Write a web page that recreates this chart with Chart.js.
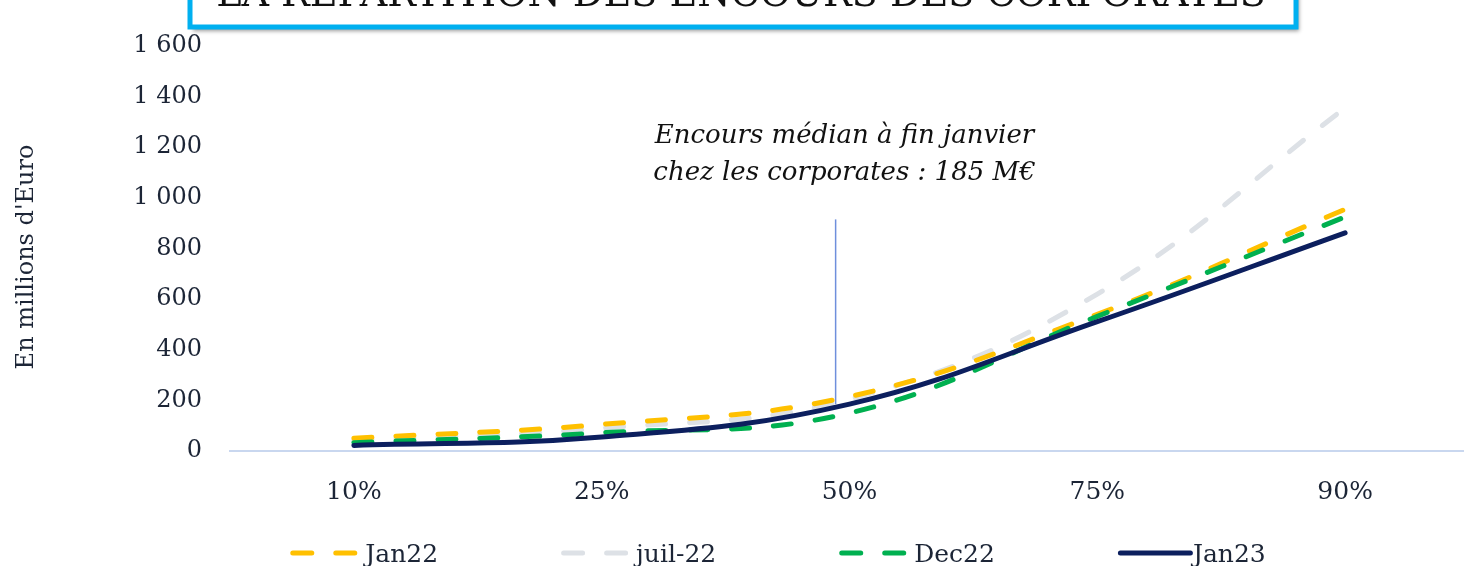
<!DOCTYPE html>
<html><head><meta charset="utf-8">
<script src="https://cdn.jsdelivr.net/npm/chart.js@4"></script>
<style>
html,body{margin:0;padding:0;background:#fff;overflow:hidden;}
#wrap{position:relative;width:1474px;height:566px;}
</style></head><body>
<div id="wrap"><canvas id="c"></canvas></div>
<script>
// ---- data ----
const categories = ['10%', '25%', '50%', '75%', '90%'];
const jan22  = [50, 105, 215, 540, 955];
const juil22 = [42, 90, 205, 620, 1355];
const dec22  = [33, 72, 150, 532, 925];
const jan23  = [22, 55, 185, 511, 862];
const seriesNames = ['Jan22', 'juil-22', 'Dec22', 'Jan23'];
const yTickLabels = ['0', '200', '400', '600', '800', '1 000', '1 200', '1 400', '1 600'];
const yTitle = "En millions d'Euro";
const chartTitle = 'LA RÉPARTITION DES ENCOURS DES CORPORATES';
const noteLines = ['Encours médian à fin janvier', 'chez les corporates : 185 M€'];
const medianValue = 185;
const medianLineTop = 915;

// ---- styles ----
const colors = ['#ffc000', '#dde1e6', '#00b050', '#0c1f5e'];
const dashes = [[18, 24], [18, 24], [18, 24], []];
const drawOrder = [2, 3, 1, 0];
const textColor = '#1c2536';
const SERIF = '"DejaVu Serif", "Liberation Serif", serif';

const seriesData = [jan22, juil22, dec22, jan23];
const datasets = seriesData.map((d, i) => ({
  label: seriesNames[i],
  data: d,
  borderColor: colors[i],
  backgroundColor: colors[i],
  borderWidth: 5,
  borderDash: dashes[i],
  borderCapStyle: 'round',
  borderJoinStyle: 'round',
  pointRadius: 0,
  pointHoverRadius: 0,
  tension: 0.4,
  fill: false,
  order: drawOrder[i]
}));

const decor = {
  id: 'decor',
  beforeDatasetsDraw(chart) {
    const {ctx, scales: {x, y}} = chart;
    const px = x.getPixelForValue(1.944);
    ctx.save();
    ctx.strokeStyle = '#6f8fdc';
    ctx.lineWidth = 1.5;
    ctx.beginPath();
    ctx.moveTo(px, y.getPixelForValue(medianLineTop));
    ctx.lineTo(px, y.getPixelForValue(medianValue));
    ctx.stroke();
    ctx.restore();
  },
  afterDraw(chart) {
    const {ctx, scales: {x, y}} = chart;
    ctx.save();
    // title box
    ctx.save();
    ctx.shadowColor = 'rgba(0,0,0,0.4)';
    ctx.shadowOffsetX = 3;
    ctx.shadowOffsetY = 4;
    ctx.shadowBlur = 4;
    ctx.fillStyle = '#ffffff';
    ctx.fillRect(190, -40, 1106, 67);
    ctx.restore();
    ctx.strokeStyle = '#00b0f0';
    ctx.lineWidth = 5;
    ctx.strokeRect(190, -40, 1106, 67);
    ctx.fillStyle = '#111111';
    let fs = 40;
    ctx.font = fs + 'px ' + SERIF;
    const tw = ctx.measureText(chartTitle).width;
    fs = fs * 1050 / tw;
    ctx.font = fs + 'px ' + SERIF;
    ctx.textAlign = 'center';
    ctx.textBaseline = 'alphabetic';
    ctx.fillText(chartTitle, 741, 6);

    // y title
    ctx.save();
    ctx.translate(27, 257);
    ctx.rotate(-Math.PI / 2);
    ctx.font = '24px ' + SERIF;
    ctx.fillStyle = textColor;
    ctx.textAlign = 'center';
    ctx.textBaseline = 'middle';
    ctx.fillText(yTitle, 0, 0);
    ctx.restore();

    // note
    ctx.font = 'italic 26px ' + SERIF;
    ctx.fillStyle = '#111111';
    ctx.textAlign = 'center';
    ctx.textBaseline = 'middle';
    const nx = x.getPixelForValue(2) - 5;
    ctx.fillText(noteLines[0], nx, 136);
    ctx.fillText(noteLines[1], nx, 173);

    // legend
    ctx.font = '25px ' + SERIF;
    const symLen = 70, textOff = 75, gap = 123;
    const widths = seriesNames.map(n => textOff + ctx.measureText(n).width);
    const total = widths.reduce((a, b) => a + b, 0) + gap * (seriesNames.length - 1);
    let sx = 778 - total / 2;
    const ly = 553;
    seriesNames.forEach((n, i) => {
      ctx.save();
      ctx.strokeStyle = colors[i];
      ctx.lineWidth = 5;
      ctx.lineCap = 'round';
      ctx.setLineDash(dashes[i].length ? [19, 24] : []);
      ctx.beginPath();
      ctx.moveTo(sx + 2.5, ly);
      ctx.lineTo(sx + 2.5 + symLen, ly);
      ctx.stroke();
      ctx.restore();
      ctx.fillStyle = textColor;
      ctx.textAlign = 'left';
      ctx.textBaseline = 'middle';
      ctx.fillText(n, sx + textOff, ly + 2);
      sx += widths[i] + gap;
    });
    ctx.restore();
  }
};

new Chart(document.getElementById('c'), {
  type: 'line',
  data: { labels: categories, datasets },
  options: {
    responsive: true,
    maintainAspectRatio: false,
    animation: false,
    layout: { padding: { top: 46, left: 0, right: 5, bottom: 0 } },
    plugins: { legend: { display: false }, tooltip: { enabled: false }, title: { display: false } },
    scales: {
      x: {
        offset: true,
        grid: { display: false, drawTicks: false, offset: true },
        border: { display: true, color: '#c9d7ef', width: 2 },
        ticks: { color: textColor, font: { family: SERIF, size: 25 }, padding: 26 },
        afterFit: s => { s.height = 115; }
      },
      y: {
        min: 0, max: 1600,
        grid: { display: false, drawTicks: false },
        border: { display: false },
        ticks: {
          stepSize: 200,
          color: textColor,
          font: { family: SERIF, size: 24 },
          padding: 28,
          callback: (v, i) => yTickLabels[i]
        },
        afterFit: s => { s.width = 230; }
      }
    }
  },
  plugins: [decor]
});
</script>
</body></html>
